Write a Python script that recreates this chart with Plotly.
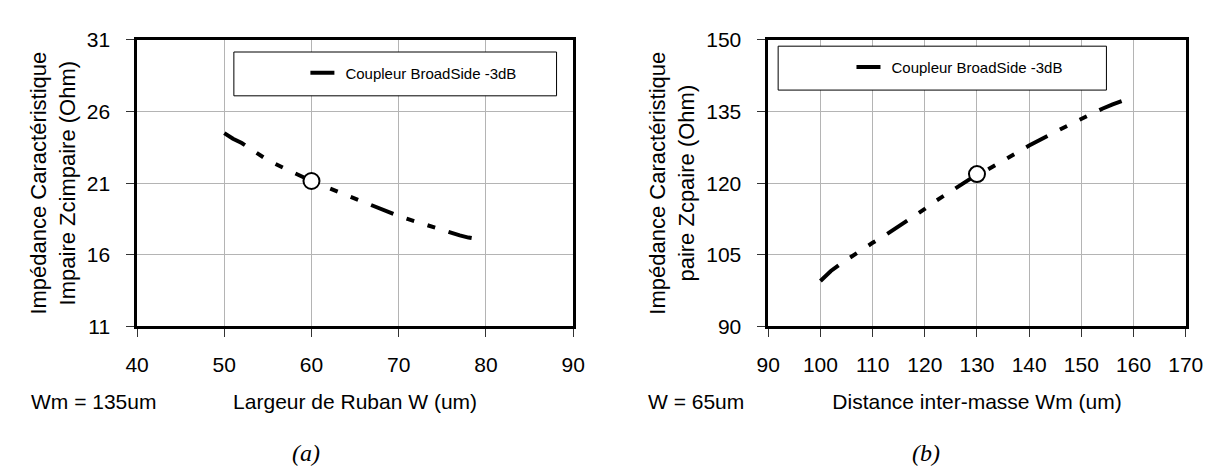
import plotly.graph_objects as go

# ---------------- data ----------------
w_ruban = [50, 51, 52, 53, 54, 55, 56, 57, 58, 59, 60, 61, 62, 63, 64,
           65, 66, 67, 68, 69, 70, 71, 72, 73, 74, 75, 76, 77, 78, 79]
z_impaire = [24.5, 24.1, 23.8, 23.4, 23.0, 22.6, 22.3, 22.0, 21.7, 21.4,
             21.15, 20.9, 20.65, 20.4, 20.15, 19.9, 19.65, 19.4, 19.15, 18.9,
             18.7, 18.5, 18.3, 18.1, 17.9, 17.7, 17.5, 17.35, 17.2, 17.1]

wm_dist = [100, 102, 104, 106, 108, 110, 112, 114, 116, 118, 120, 122, 124,
           126, 128, 130, 132, 134, 136, 138, 140, 142, 144, 146, 148, 150,
           152, 154, 156, 158, 160]
z_paire = [99.5, 101.6, 103.2, 104.7, 106.1, 107.5, 108.8, 110.2, 111.6,
           113.0, 114.6, 116.2, 117.6, 119.0, 120.5, 121.8, 122.8, 124.0,
           125.3, 126.6, 127.9, 129.1, 130.2, 131.3, 132.4, 133.5, 134.6,
           135.6, 136.5, 137.3, 138.1]

sel_w = [60]
sel_zi = [21.15]
sel_wm = [130]
sel_zp = [121.9]

series_name = "Coupleur BroadSide -3dB"

x1_ticks = [40, 50, 60, 70, 80, 90]
y1_ticks = [11, 16, 21, 26, 31]
x2_ticks = [90, 100, 110, 120, 130, 140, 150, 160, 170]
y2_ticks = [90, 105, 120, 135, 150]

# legend boxes (data units of each panel)
leg1_box = dict(x0=51.1, x1=88.1, y0=27.1, y1=30.16)
leg2_box = dict(x0=91.9, x1=154.8, y0=139.5, y1=148.7)

# ---------------- layout geometry ----------------
W, H = 1226, 473
P1 = (120, 567)     # left panel px
P2 = (767, 1195)    # right panel px
TOP, BOT = 21, 322

FONT = "Liberation Sans, Arial, sans-serif"
SERIF = "Liberation Serif, Times New Roman, serif"
DASH = "24px,14px,8px,14px,8px,14px"


def px_to_paper_x(px):
    return px / W


def px_to_paper_y(py):
    return 1 - py / H


def data_to_px_x(v, rng, pan):
    return pan[0] + (v - rng[0]) / (rng[1] - rng[0]) * (pan[1] - pan[0])


def data_to_px_y(v, rng):
    return BOT - (v - rng[0]) / (rng[1] - rng[0]) * (BOT - TOP)


xr1 = [x1_ticks[0], x1_ticks[-1]]
yr1 = [y1_ticks[0], y1_ticks[-1]]
xr2 = [x2_ticks[0], x2_ticks[-1]]
yr2 = [y2_ticks[0], y2_ticks[-1]]

fig = go.Figure()

fig.add_trace(go.Scatter(
    x=w_ruban, y=z_impaire, mode="lines", name=series_name,
    line=dict(color="black", width=4, dash=DASH),
    xaxis="x", yaxis="y", legend="legend"))
fig.add_trace(go.Scatter(
    x=sel_w, y=sel_zi, mode="markers", showlegend=False,
    marker=dict(symbol="circle", size=16, color="white",
                line=dict(color="black", width=2)),
    xaxis="x", yaxis="y"))

fig.add_trace(go.Scatter(
    x=wm_dist, y=z_paire, mode="lines", name=series_name,
    line=dict(color="black", width=4, dash=DASH),
    xaxis="x2", yaxis="y2", legend="legend2"))
fig.add_trace(go.Scatter(
    x=sel_wm, y=sel_zp, mode="markers", showlegend=False,
    marker=dict(symbol="circle", size=16, color="white",
                line=dict(color="black", width=2)),
    xaxis="x2", yaxis="y2"))

axis_common = dict(
    showgrid=True, gridcolor="#b4b4b4", gridwidth=1,
    showline=True, linecolor="black", linewidth=2.5, mirror=True,
    ticks="outside", ticklen=8, tickcolor="#333333", tickwidth=1,
    tickfont=dict(family=FONT, size=21, color="black"),
    zeroline=False, fixedrange=True,
)
xaxis_common = dict(axis_common, ticklabelstandoff=10)
yaxis_common = dict(axis_common, ticklabelstandoff=12)

xtitle_font = dict(family=FONT, size=21, color="black")
ytitle_font = dict(family=FONT, size=22, color="black")

fig.update_layout(
    width=W, height=H,
    margin=dict(l=0, r=0, t=0, b=0),
    paper_bgcolor="white", plot_bgcolor="white",
    font=dict(family=FONT, color="black"),
    xaxis=dict(xaxis_common, domain=[px_to_paper_x(P1[0]), px_to_paper_x(P1[1])],
               range=xr1, tickvals=x1_ticks, anchor="y",
               title=dict(text="Largeur de Ruban W (um)", font=xtitle_font, standoff=20)),
    yaxis=dict(yaxis_common, domain=[px_to_paper_y(BOT), px_to_paper_y(TOP)],
               range=yr1, tickvals=y1_ticks, anchor="x",
               title=dict(text="Impédance Caractéristique<br>Impaire Zcimpaire (Ohm)",
                          font=ytitle_font, standoff=6)),
    xaxis2=dict(xaxis_common, domain=[px_to_paper_x(P2[0]), px_to_paper_x(P2[1])],
                range=xr2, tickvals=x2_ticks, anchor="y2",
                title=dict(text="Distance inter-masse Wm (um)", font=xtitle_font, standoff=20)),
    yaxis2=dict(yaxis_common, domain=[px_to_paper_y(BOT), px_to_paper_y(TOP)],
                range=yr2, tickvals=y2_ticks, anchor="x2",
                title=dict(text="Impédance Caractéristique<br>paire Zcpaire (Ohm)",
                           font=ytitle_font, standoff=6)),
    showlegend=True,
)

# legend boxes drawn as rectangles, real legends placed inside them
for box, xref, yref in [(leg1_box, "x", "y"), (leg2_box, "x2", "y2")]:
    fig.add_shape(type="rect", xref=xref, yref=yref, layer="above",
                  x0=box["x0"], x1=box["x1"], y0=box["y0"], y1=box["y1"],
                  line=dict(color="black", width=1), fillcolor="white")

# legend text start positions (data units)
leg1_text_x, leg1_y = 64.0, 28.7
leg2_text_x, leg2_y = 113.8, 144.3

lx1 = data_to_px_x(leg1_text_x, xr1, P1) - 42
ly1 = data_to_px_y(leg1_y, yr1)
lx2 = data_to_px_x(leg2_text_x, xr2, P2) - 42
ly2 = data_to_px_y(leg2_y, yr2)

leg_common = dict(bgcolor="rgba(0,0,0,0)", borderwidth=0,
                  font=dict(family=FONT, size=15, color="black"),
                  xanchor="left", yanchor="middle", itemclick=False,
                  itemdoubleclick=False)
fig.update_layout(
    legend=dict(leg_common, x=px_to_paper_x(lx1), y=px_to_paper_y(ly1)),
    legend2=dict(leg_common, x=px_to_paper_x(lx2), y=px_to_paper_y(ly2)),
)

# side notes and panel labels
notes = [
    ("Wm = 135um", 9, 401, "left", FONT, 21, False),
    ("W = 65um", 642, 401, "left", FONT, 21, False),
    ("(a)", (P1[0] + P1[1]) / 2 - 50, 455, "center", SERIF, 24, True),
    ("(b)", (P2[0] + P2[1]) / 2 - 52, 455, "center", SERIF, 24, True),
]
for text, x, y, anchor, fam, size, ital in notes:
    fig.add_annotation(
        text=f"<i>{text}</i>" if ital else text,
        xref="paper", yref="paper", x=px_to_paper_x(x), y=px_to_paper_y(y),
        xanchor=anchor, yanchor="middle", showarrow=False,
        font=dict(family=fam, size=size, color="black"))

fig.write_html("out.html")
